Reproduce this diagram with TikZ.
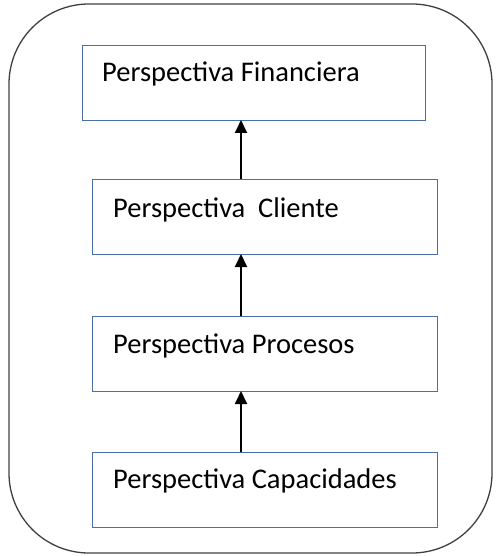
\documentclass[tikz,border=0pt]{standalone}
\usepackage{fontspec}
\setmainfont{Carlito}
\usetikzlibrary{arrows.meta}
\definecolor{boxblue}{HTML}{4A6FA5}
\definecolor{framegray}{HTML}{404040}
\begin{document}
\begin{tikzpicture}[x=1pt,y=-1pt,
  persbox/.style={draw=boxblue,line width=1.3pt,minimum width=#1,minimum height=75pt,inner sep=0pt,anchor=north west},
  perstext/.style={anchor=base west,inner sep=0pt,font=\fontsize{28.5}{32}\selectfont},
  uparrow/.style={line width=1.8pt,-{Triangle[width=12pt,length=13pt]}}]
\useasboundingbox (0,0) rectangle (495,556);
\draw[framegray,line width=1.3pt,rounded corners=80pt] (9,4) rectangle (492,553);
\node[persbox=343pt] (b1) at (82,45) {};
\node[persbox=345pt] (b2) at (92,179) {};
\node[persbox=345pt] (b3) at (92,316) {};
\node[persbox=345pt] (b4) at (92,452) {};
\node[perstext] (t1) at (102,82) {Perspectiva Financiera};
\node[perstext] (t2) at (113,217) {Perspectiva\ \ Cliente};
\node[perstext] (t3) at (113,353) {Perspectiva Procesos};
\node[perstext] (t4) at (113,488) {Perspectiva Capacidades};
\coordinate (a1s) at (241,179);
\coordinate (a1e) at (241,120);
\coordinate (a2s) at (241,316);
\coordinate (a2e) at (241,254);
\coordinate (a3s) at (241,452);
\coordinate (a3e) at (241,391);
\draw[uparrow] (a1s) -- (a1e);
\draw[uparrow] (a2s) -- (a2e);
\draw[uparrow] (a3s) -- (a3e);
\end{tikzpicture}
\end{document}
